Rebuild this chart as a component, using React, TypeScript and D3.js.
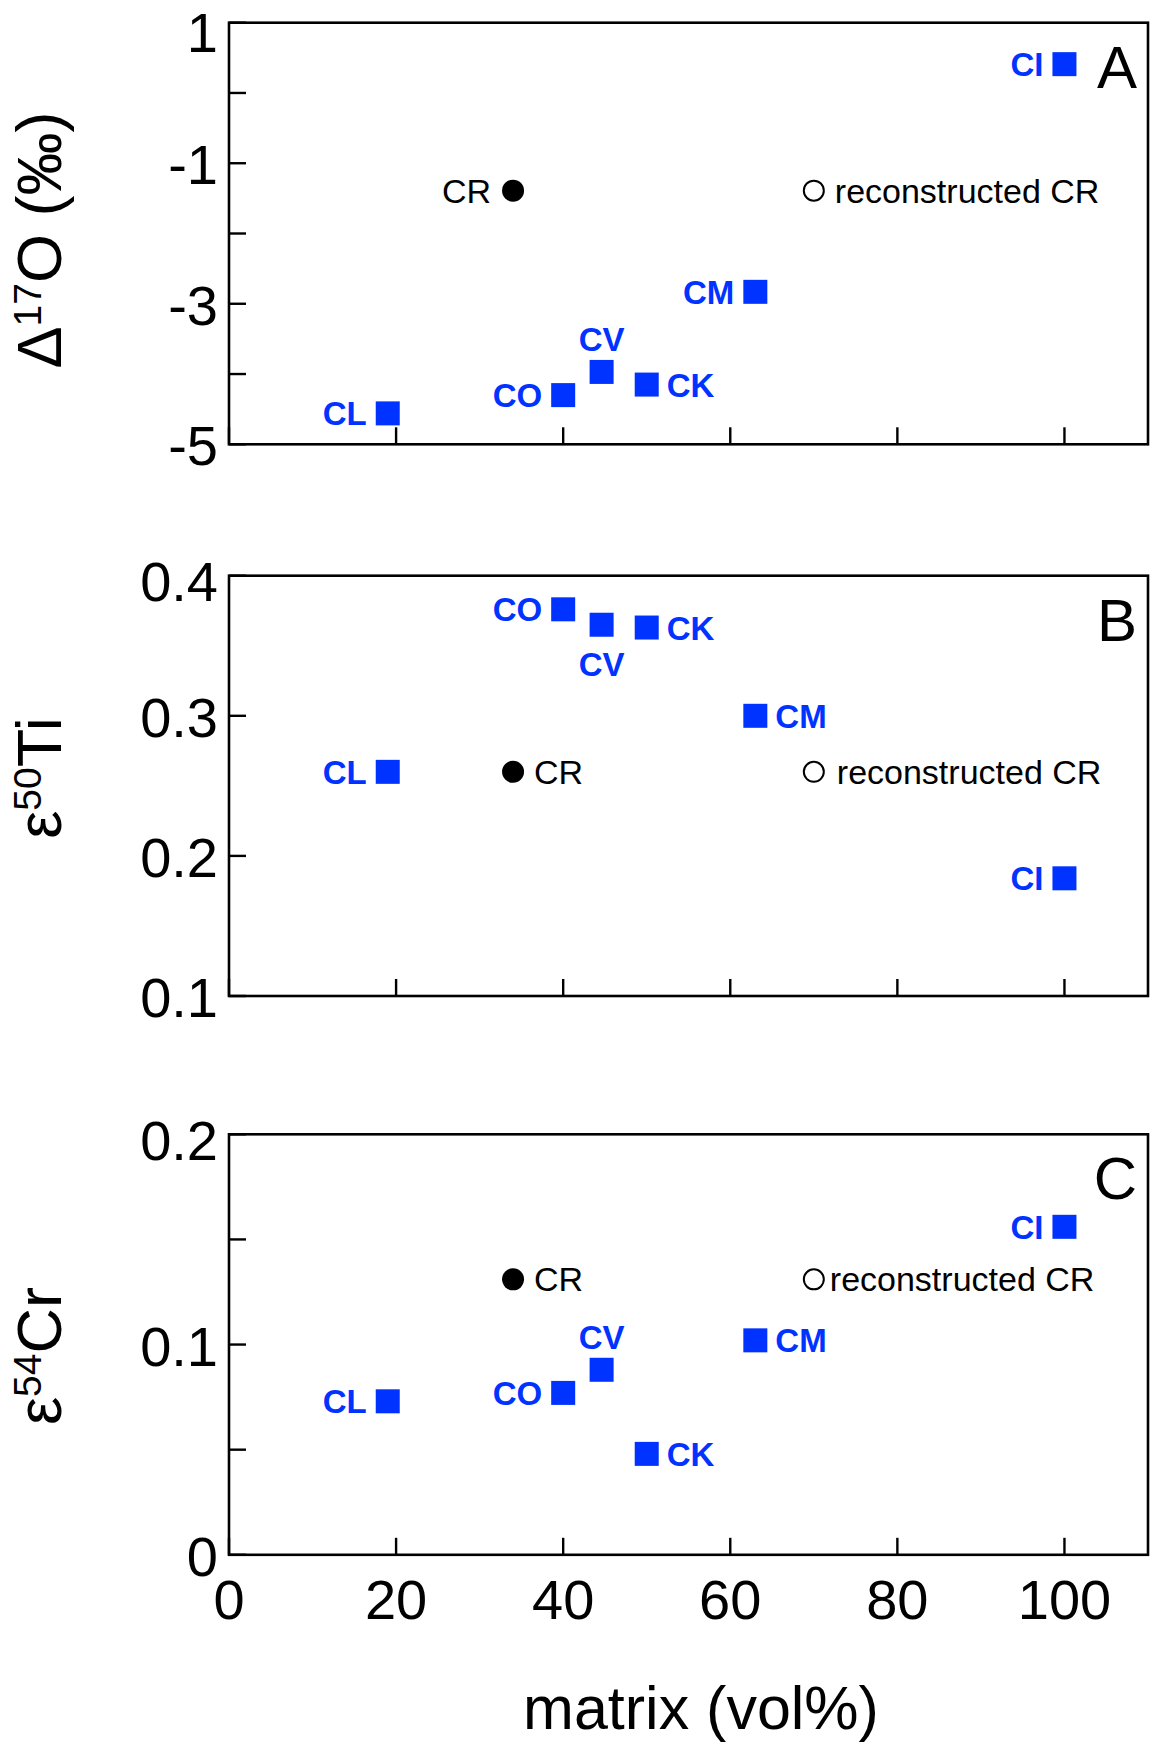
import React from "react";
import * as d3 from "d3";

// ---------- data ----------
const groups = ["CL", "CO", "CV", "CK", "CM", "CI"];
const matrixVol = [19, 40, 44.6, 50, 63, 100];
const d17O = [-4.56, -4.3, -3.97, -4.15, -2.83, 0.41];
const e50Ti = [0.26, 0.376, 0.365, 0.363, 0.3, 0.184];
const e54Cr = [0.073, 0.077, 0.088, 0.048, 0.102, 0.156];

const crMatrix = 34;
const reconMatrix = 70;
const crValues = [-1.39, 0.26, 0.131]; // A, B, C
const reconValues = [-1.39, 0.26, 0.131];

const xTicks = [0, 20, 40, 60, 80, 100];
const yTicksA = [-5, -4, -3, -2, -1, 0, 1];
const yLabelsA = [-5, -3, -1, 1];
const yTicksB = [0.1, 0.2, 0.3, 0.4];
const yLabelsB = [0.1, 0.2, 0.3, 0.4];
const yTicksC = [0, 0.05, 0.1, 0.15, 0.2];
const yLabelsC = [0, 0.1, 0.2];

// label placements per panel, in order of groups
const placeA = ["left", "left", "above", "right", "left", "left"];
const placeB = ["left", "left", "below", "right", "right", "left"];
const placeC = ["left", "left", "above", "right", "right", "left"];

const FONT = "'Liberation Sans', Arial, Helvetica, sans-serif";
const BLUE = "#0033ff";

const W = 1152;
const H = 1744;
const X0 = 229;
const X1 = 1148;

const x = d3.scaleLinear().domain([0, 110]).range([X0, X1]);

type PanelDef = {
  top: number;
  bottom: number;
  domain: [number, number];
  values: number[];
  ticks: number[];
  labels: number[];
  fmt: (v: number) => string;
  place: string[];
  letter: string;
  crIdx: number;
  crLabelLeft: boolean;
  reconGap: number;
  topLabelOffset: number;
  title: React.ReactNode;
  titleY: number;
};

const SQ = 24;
const R = 11;

function Panel({ p, showX }: { p: PanelDef; showX: boolean }) {
  const y = d3.scaleLinear().domain(p.domain).range([p.bottom, p.top]);
  const tl = 17;
  return (
    <g>
      {/* frame */}
      <rect
        x={X0}
        y={p.top}
        width={X1 - X0}
        height={p.bottom - p.top}
        fill="none"
        stroke="#000"
        strokeWidth={2.6}
      />
      {/* y ticks */}
      {p.ticks.map((t, i) => (
        <line key={"yt" + i} x1={X0} x2={X0 + tl} y1={y(t)} y2={y(t)} stroke="#000" strokeWidth={2.4} />
      ))}
      {p.labels.map((t, i) => (
        <text
          key={"yl" + i}
          x={218}
          y={y(t) + (t === p.domain[1] ? p.topLabelOffset : 21)}
          textAnchor="end"
          fontSize={56}
          fontFamily={FONT}
        >
          {p.fmt(t)}
        </text>
      ))}
      {/* x ticks */}
      {xTicks.map((t, i) => (
        <line key={"xt" + i} x1={x(t)} x2={x(t)} y1={p.bottom} y2={p.bottom - tl} stroke="#000" strokeWidth={2.4} />
      ))}
      {showX &&
        xTicks.map((t, i) => (
          <text key={"xl" + i} x={x(t)} y={1619} textAnchor="middle" fontSize={56} fontFamily={FONT}>
            {t}
          </text>
        ))}
      {/* y title */}
      <text
        transform={`translate(61,${p.titleY}) rotate(-90)`}
        textAnchor="middle"
        fontSize={63}
        fontFamily={FONT}
      >
        {p.title}
      </text>
      {/* panel letter */}
      <text x={1137} y={p.top + 65} textAnchor="end" fontSize={60} fontFamily={FONT}>
        {p.letter}
      </text>
      {/* CR filled */}
      <circle cx={x(crMatrix)} cy={y(crValues[p.crIdx])} r={R} fill="#000" />
      <text
        x={p.crLabelLeft ? x(crMatrix) - R - 11 : x(crMatrix) + R + 10}
        y={y(crValues[p.crIdx]) + 12}
        textAnchor={p.crLabelLeft ? "end" : "start"}
        fontSize={34}
        fontFamily={FONT}
      >
        CR
      </text>
      {/* reconstructed CR open */}
      <circle
        cx={x(reconMatrix)}
        cy={y(reconValues[p.crIdx])}
        r={R - 1}
        fill="#fff"
        stroke="#000"
        strokeWidth={2}
      />
      <text
        x={x(reconMatrix) + R + p.reconGap}
        y={y(reconValues[p.crIdx]) + 12}
        fontSize={34}
        fontFamily={FONT}
      >
        reconstructed CR
      </text>
      {/* groups */}
      {groups.map((g, i) => {
        const cx = x(matrixVol[i]);
        const cy = y(p.values[i]);
        const pl = p.place[i];
        let tx = cx;
        let ty = cy + 12;
        let anchor: "start" | "middle" | "end" = "middle";
        if (pl === "left") {
          tx = cx - SQ / 2 - 9;
          anchor = "end";
        } else if (pl === "right") {
          tx = cx + SQ / 2 + 8;
          anchor = "start";
        } else if (pl === "above") {
          ty = cy - SQ / 2 - 9;
        } else if (pl === "below") {
          ty = cy + SQ / 2 + 39;
        }
        return (
          <g key={g}>
            <rect x={cx - SQ / 2} y={cy - SQ / 2} width={SQ} height={SQ} fill={BLUE} />
            <text
              x={tx}
              y={ty}
              textAnchor={anchor}
              fontSize={33}
              fontWeight="bold"
              fontFamily={FONT}
              fill={BLUE}
            >
              {g}
            </text>
          </g>
        );
      })}
    </g>
  );
}

const fmtA = (v: number) => String(v);
const fmtB = (v: number) => v.toFixed(1);
const fmtC = (v: number) => (v === 0 ? "0" : v.toFixed(1));

const panels: PanelDef[] = [
  {
    top: 22.7,
    bottom: 444.3,
    domain: [-5, 1],
    values: d17O,
    ticks: yTicksA,
    labels: yLabelsA,
    fmt: fmtA,
    place: placeA,
    letter: "A",
    crIdx: 0,
    crLabelLeft: true,
    reconGap: 10,
    topLabelOffset: 29,
    titleY: 240,
    title: (
      <>
        <tspan>Δ</tspan>
        <tspan fontSize={39} dy={-20}>
          17
        </tspan>
        <tspan dy={20}>O (‰)</tspan>
      </>
    ),
  },
  {
    top: 575.7,
    bottom: 996,
    domain: [0.1, 0.4],
    values: e50Ti,
    ticks: yTicksB,
    labels: yLabelsB,
    fmt: fmtB,
    place: placeB,
    letter: "B",
    crIdx: 1,
    crLabelLeft: false,
    reconGap: 12,
    topLabelOffset: 25,
    titleY: 778,
    title: (
      <>
        <tspan>ε</tspan>
        <tspan fontSize={39} dy={-20}>
          50
        </tspan>
        <tspan dy={20}>Ti</tspan>
      </>
    ),
  },
  {
    top: 1134.3,
    bottom: 1554.8,
    domain: [0, 0.2],
    values: e54Cr,
    ticks: yTicksC,
    labels: yLabelsC,
    fmt: fmtC,
    place: placeC,
    letter: "C",
    crIdx: 2,
    crLabelLeft: false,
    reconGap: 5,
    topLabelOffset: 26,
    titleY: 1356,
    title: (
      <>
        <tspan>ε</tspan>
        <tspan fontSize={39} dy={-20}>
          54
        </tspan>
        <tspan dy={20}>Cr</tspan>
      </>
    ),
  },
];

export default function App() {
  return (
    <svg
      width={W}
      height={H}
      viewBox={`0 0 ${W} ${H}`}
      style={{ position: "absolute", left: 0, top: 0, background: "#fff" }}
    >
      <rect x={0} y={0} width={W} height={H} fill="#fff" />
      {panels.map((p, i) => (
        <Panel key={i} p={p} showX={i === 2} />
      ))}
      <text x={701} y={1729} textAnchor="middle" fontSize={61} fontFamily={FONT}>
        matrix (vol%)
      </text>
    </svg>
  );
}
